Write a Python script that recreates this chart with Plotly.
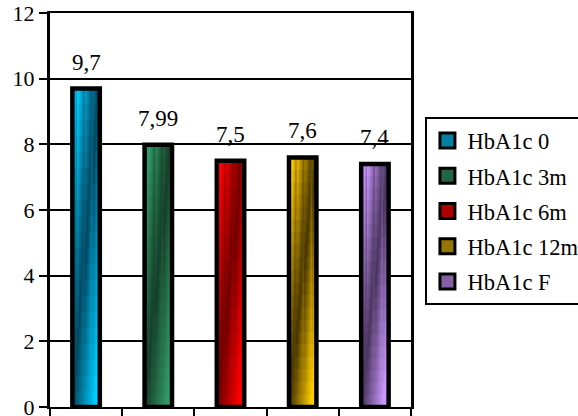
import plotly.graph_objects as go

# HbA1c means at each follow-up point
categories = ["HbA1c 0", "HbA1c 3m", "HbA1c 6m", "HbA1c 12m", "HbA1c F"]
values = [9.7, 7.99, 7.5, 7.6, 7.4]
labels = ["9,7", "7,99", "7,5", "7,6", "7,4"]
y_ticks = [0, 2, 4, 6, 8, 10, 12]

# light / dark ends of each bar's shading
light_colors = [(0, 204, 255), (51, 153, 102), (255, 0, 0), (255, 204, 0), (204, 153, 255)]
dark_colors = [(5, 70, 95), (22, 62, 42), (110, 0, 0), (70, 52, 0), (72, 52, 92)]

SERIF = "Liberation Serif, Times New Roman, Tinos, serif"
BAR_W = 0.38
N_COLS = 24
N_ROWS = 20


def shade(k, u, v):
    # diagonal shading: dark band from top-right to bottom-left
    t = min(1.0, abs(u + v - 1.0) * 1.25)
    lo, hi = dark_colors[k], light_colors[k]
    r, g, b = (int(round(lo[c] + (hi[c] - lo[c]) * t)) for c in range(3))
    return f"rgb({r},{g},{b})"


fig = go.Figure()

# Shaded fill: overlapping bar pieces, each running to the bar's top/right edge
for j in range(N_COLS):
    u = (j + 0.5) / N_COLS
    off = -BAR_W / 2 + j * BAR_W / N_COLS
    w = BAR_W - j * BAR_W / N_COLS
    for i in range(N_ROWS):
        v = 1 - (i + 0.5) / N_ROWS
        bases = [val * i / N_ROWS for val in values]
        heights = [val - b for val, b in zip(values, bases)]
        fig.add_trace(go.Bar(
            x=categories, y=heights, base=bases,
            offset=off, width=w,
            marker=dict(color=[shade(k, u, v) for k in range(len(values))], line=dict(width=0)),
            showlegend=False, hoverinfo="skip",
        ))

# Outlines on top of the shaded fill
fig.add_trace(go.Bar(
    x=categories, y=values, width=BAR_W, offset=-BAR_W / 2,
    marker=dict(color="rgba(0,0,0,0)", line=dict(color="black", width=4.5)),
    showlegend=False, hoverinfo="skip",
))

# Value labels above the bars
for c, val, lab in zip(categories, values, labels):
    fig.add_annotation(x=c, y=val, text=lab, showarrow=False,
                       yanchor="bottom", yshift=12,
                       font=dict(family=SERIF, size=23, color="black"))

# Legend entries (square markers, no data)
for k, name in enumerate(categories):
    fig.add_trace(go.Scatter(
        x=[None], y=[None], mode="markers", name=name, legendgroup=name,
        marker=dict(symbol="square", size=15, color=shade(k, 0.5, 0.15),
                    line=dict(color="black", width=3)),
    ))

fig.update_layout(
    width=578, height=416,
    margin=dict(l=50, r=167, t=13, b=9, autoexpand=False),
    paper_bgcolor="white", plot_bgcolor="white",
    barmode="overlay",
    font=dict(family=SERIF, size=22, color="black"),
    showlegend=True,
    legend=dict(
        x=1.04, y=0.735, xanchor="left", yanchor="top",
        bordercolor="black", borderwidth=2, bgcolor="white",
        font=dict(family=SERIF, size=22.5, color="black"),
        tracegroupgap=3, itemsizing="trace",
    ),
)

fig.update_xaxes(
    type="category", range=[-0.5, 4.5],
    showticklabels=False, tickson="boundaries",
    ticks="outside", ticklen=10, tickwidth=2, tickcolor="black",
    showline=True, linecolor="black", linewidth=2, mirror=True,
    showgrid=False, zeroline=False,
)
fig.update_yaxes(
    range=[0, 12], tickvals=y_ticks, ticklabeloverflow="allow",
    ticks="outside", ticklen=8, tickwidth=2, tickcolor="black",
    showline=True, linecolor="black", linewidth=3, mirror=True,
    showgrid=True, gridcolor="black", gridwidth=2, zeroline=False,
    tickfont=dict(family=SERIF, size=22, color="black"),
)

fig.write_html("out.html")
